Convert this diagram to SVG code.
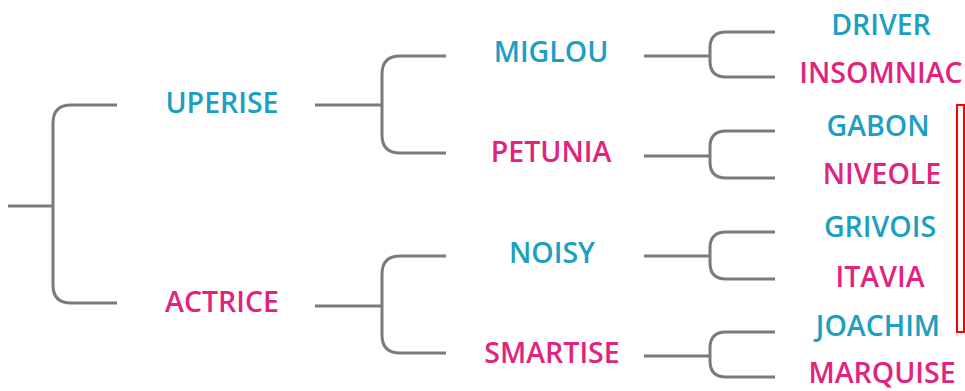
<svg xmlns="http://www.w3.org/2000/svg" width="965" height="391" viewBox="0 0 965 391">
  <style>
    .c { fill: none; stroke: #7b7b7b; stroke-width: 3; stroke-linecap: butt; }
    text { font-family: "Open Sans", "Liberation Sans", sans-serif; font-weight: 600; font-size: 28.5px; text-anchor: middle; }
    .b { fill: #1c9fc2; }
    .p { fill: #e1237f; }
  </style>
  <rect width="965" height="391" fill="#ffffff"/>
  <g id="connectors">
    <path class="c" d="M8,206 H53"/>
    <path class="c" d="M117,105 H71 Q53,105 53,123 V285 Q53,303 71,303 H117"/>
    <path class="c" d="M315,105 H382"/>
    <path class="c" d="M446,56 H400 Q382,56 382,74 V135 Q382,153 400,153 H446"/>
    <path class="c" d="M315,306 H382"/>
    <path class="c" d="M446,256 H400 Q382,256 382,274 V335 Q382,353 400,353 H446"/>
    <path class="c" d="M644,56 H710"/>
    <path class="c" d="M775,32 H726 Q710,32 710,48 V61 Q710,77 726,77 H775"/>
    <path class="c" d="M644,156 H710"/>
    <path class="c" d="M775,131 H726 Q710,131 710,147 V162 Q710,178 726,178 H775"/>
    <path class="c" d="M644,256 H710"/>
    <path class="c" d="M775,232 H726 Q710,232 710,248 V263 Q710,279 726,279 H775"/>
    <path class="c" d="M644,356 H710"/>
    <path class="c" d="M775,332 H726 Q710,332 710,348 V361 Q710,377 726,377 H775"/>
  </g>
  <g id="uperise"><text class="b" x="222" y="113">UPERISE</text></g>
  <g id="actrice"><text class="p" x="222" y="312">ACTRICE</text></g>
  <g id="miglou"><text class="b" x="551" y="62">MIGLOU</text></g>
  <g id="petunia"><text class="p" x="551" y="162">PETUNIA</text></g>
  <g id="noisy"><text class="b" x="552" y="263">NOISY</text></g>
  <g id="smartise"><text class="p" x="552" y="363">SMARTISE</text></g>
  <g id="driver"><text class="b" x="881" y="35">DRIVER</text></g>
  <g id="insomniac"><text class="p" x="881" y="83">INSOMNIAC</text></g>
  <g id="gabon"><text class="b" x="878" y="136">GABON</text></g>
  <g id="niveole"><text class="p" x="882" y="184">NIVEOLE</text></g>
  <g id="grivois"><text class="b" x="880" y="237">GRIVOIS</text></g>
  <g id="itavia"><text class="p" x="880" y="287">ITAVIA</text></g>
  <g id="joachim"><text class="b" x="878" y="336">JOACHIM</text></g>
  <g id="marquise"><text class="p" x="882" y="383">MARQUISE</text></g>
  <rect id="highlight" x="957" y="105" width="7" height="227" fill="none" stroke="#ff0000" stroke-width="2"/>
</svg>
